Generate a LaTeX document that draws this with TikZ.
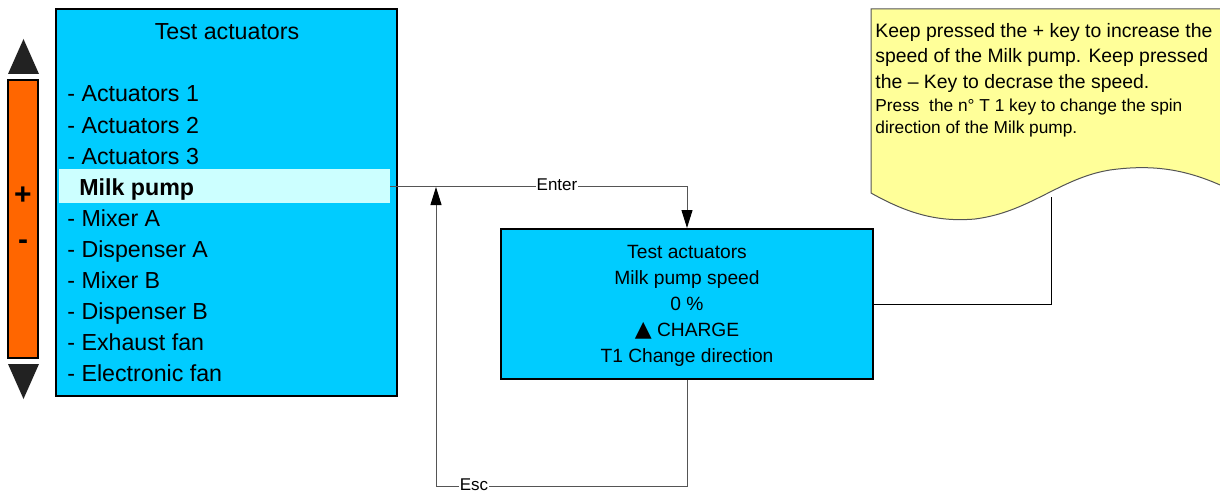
\documentclass[tikz,border=0pt]{standalone}
\usepackage{fontspec}
\setmainfont{Liberation Sans}
\newfontfamily\symfont{DejaVu Sans}
\usetikzlibrary{arrows.meta, positioning}
\definecolor{screenblue}{HTML}{00CCFF}
\definecolor{selcyan}{HTML}{CCFFFF}
\definecolor{keyorange}{HTML}{FF6600}
\definecolor{noteyellow}{HTML}{FFFF99}
\definecolor{keygray}{HTML}{222222}
\definecolor{linegray}{HTML}{555555}

\begin{document}
\begin{tikzpicture}[
  x=0.5pt, y=-0.5pt,
  screen/.style={rectangle, draw=black, line width=1pt, fill=screenblue, inner sep=0pt},
  item/.style={anchor=base west, inner sep=0pt, font=\fontsize{11.6}{14}\selectfont},
  link/.style={draw=linegray, line width=0.5pt},
  arrow/.style={link, -{Triangle[length=9pt, width=5.5pt, color=black]}},
  lbl/.style={fill=white, inner sep=0.4pt, font=\fontsize{8.5}{10}\selectfont},
]
  \useasboundingbox (0,0) rectangle (1220,492);

  % keypad on the left
  \node[draw=black, line width=0.8pt, fill=keyorange, minimum width=15pt,
        minimum height=139pt, inner sep=0pt] (keys) at (23,219) {};
  \node[font=\fontsize{15}{15}\selectfont\bfseries] (plus)  at (23,196) {+};
  \node[font=\fontsize{15}{15}\selectfont\bfseries] (minus) at (23,245) {-};
  \fill[keygray] (8,74) -- (39,74) -- (23.5,39) -- cycle;
  \fill[keygray] (8,364) -- (39,364) -- (23.5,399) -- cycle;

  % menu screen
  \node[screen, minimum width=170.5pt, minimum height=193.5pt] (menu) at (226.5,202.5) {};
  \node[item, anchor=base] (menutitle) at (227,40) {Test actuators};
  \node[fill=selcyan, inner sep=0pt, minimum width=165.5pt, minimum height=17pt] (sel) at (224.5,186) {};
  \foreach \txt/\row in {Actuators 1/0, Actuators 2/1, Actuators 3/2, Mixer A/4,
      Dispenser A/5, Mixer B/6, Dispenser B/7, Exhaust fan/8, Electronic fan/9}
    \node[item] (item\row) at (67,{102+31.1*\row}) {- \txt};
  \node[item, font=\fontsize{11.6}{14}\selectfont\bfseries] (item3) at (79,195.3) {Milk pump};

  % speed screen
  \node[screen, minimum width=186pt, minimum height=75pt] (speed) at (687,304) {};
  \node[align=center, inner sep=0pt, font=\fontsize{9.6}{13}\selectfont] (speedtxt) at (687,306)
        {Test actuators\\Milk pump speed\\0 \%\\{\symfont\fontsize{11}{13}\selectfont ▲} CHARGE\\T1 Change direction};

  % note
  \filldraw[fill=noteyellow, draw=linegray, line width=0.5pt]
    (1235,9) -- (871,9) -- (871,193)
    .. controls (910,215) and (940,222) .. (975,219)
    .. controls (1030,212) and (1060,178) .. (1110,170)
    .. controls (1160,163) and (1195,172) .. (1235,192) -- cycle;
  \node[anchor=north west, inner sep=0pt, align=left,
        font=\fontsize{9.7}{12.75}\selectfont] (notetop) at (875,23)
        {Keep pressed the + key to increase the\\speed of the Milk pump. Keep pressed\\the – Key to decrase the speed.};
  \node[anchor=north west, inner sep=0pt, align=left,
        font=\fontsize{8.65}{10.6}\selectfont] (notebot) at (875,99)
        {Press~ the n° T 1 key to change the spin\\direction of the Milk pump.};
  \coordinate (notetip) at (1051,197);
  \draw[link, draw=black] (speed.east) -| (notetip);

  % connectors
  \draw[arrow] (sel.east) -| (speed.north);
  \node[lbl] (enterlbl) at (557,185) {Enter};
  \coordinate (escbase) at (436,486);
  \coordinate (esctip) at (436,187);
  \draw[arrow] (speed.south) |- (escbase) -- (esctip);
  \node[lbl, anchor=base] (esclbl) at (474,490) {Esc};
\end{tikzpicture}
\end{document}
